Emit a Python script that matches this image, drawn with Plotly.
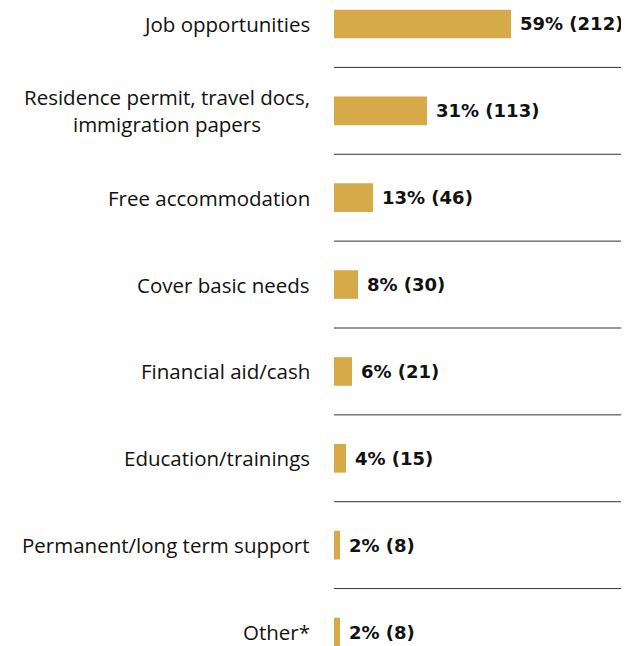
import plotly.graph_objects as go

# Data
categories = [
    "Job opportunities",
    "Residence permit, travel docs,<br>immigration papers",
    "Free accommodation",
    "Cover basic needs",
    "Financial aid/cash",
    "Education/trainings",
    "Permanent/long term support",
    "Other*",
]
percents = [59, 31, 13, 8, 6, 4, 2, 2]
counts = [212, 113, 46, 30, 21, 15, 8, 8]

BAR_COLOR = "#D6AA48"
positions = list(range(len(categories)))

fig = go.Figure()
fig.add_trace(go.Bar(
    x=percents,
    y=positions,
    orientation="h",
    marker=dict(color=BAR_COLOR, line=dict(width=0)),
    width=0.33,
    hoverinfo="skip",
))

annotations = []
for pos, cat, pct, n in zip(positions, categories, percents, counts):
    # category label on the left
    annotations.append(dict(
        x=0, xref="paper", y=pos, yref="y",
        text=cat, showarrow=False,
        xanchor="right", yanchor="middle", align="center", xshift=-22,
        font=dict(family="Open Sans", size=20.5, color="#111111"),
    ))
    # value label after the bar
    annotations.append(dict(
        x=pct, xref="x", y=pos, yref="y",
        text=f"<b>{pct}% ({n})</b>", showarrow=False,
        xanchor="left", yanchor="middle", xshift=7,
        font=dict(family="DejaVu Sans", size=18, color="#111111"),
    ))

# separator lines between rows (run to the right edge)
shapes = []
for pos in positions[:-1]:
    shapes.append(dict(
        type="line", xref="paper", x0=0, x1=1.05,
        yref="y", y0=pos + 0.5, y1=pos + 0.5,
        line=dict(color="#333333", width=1),
    ))

# page body has an 8px margin, so the figure is 8px smaller than the window
fig.update_layout(
    width=621,
    height=638,
    margin=dict(l=326, r=0, t=0, b=0),
    plot_bgcolor="white",
    paper_bgcolor="white",
    showlegend=False,
    annotations=annotations,
    shapes=shapes,
    xaxis=dict(range=[0, 98.3], visible=False, fixedrange=True),
    yaxis=dict(range=[7.161, -0.184], visible=False, fixedrange=True),
)

fig.write_html("out.html")
